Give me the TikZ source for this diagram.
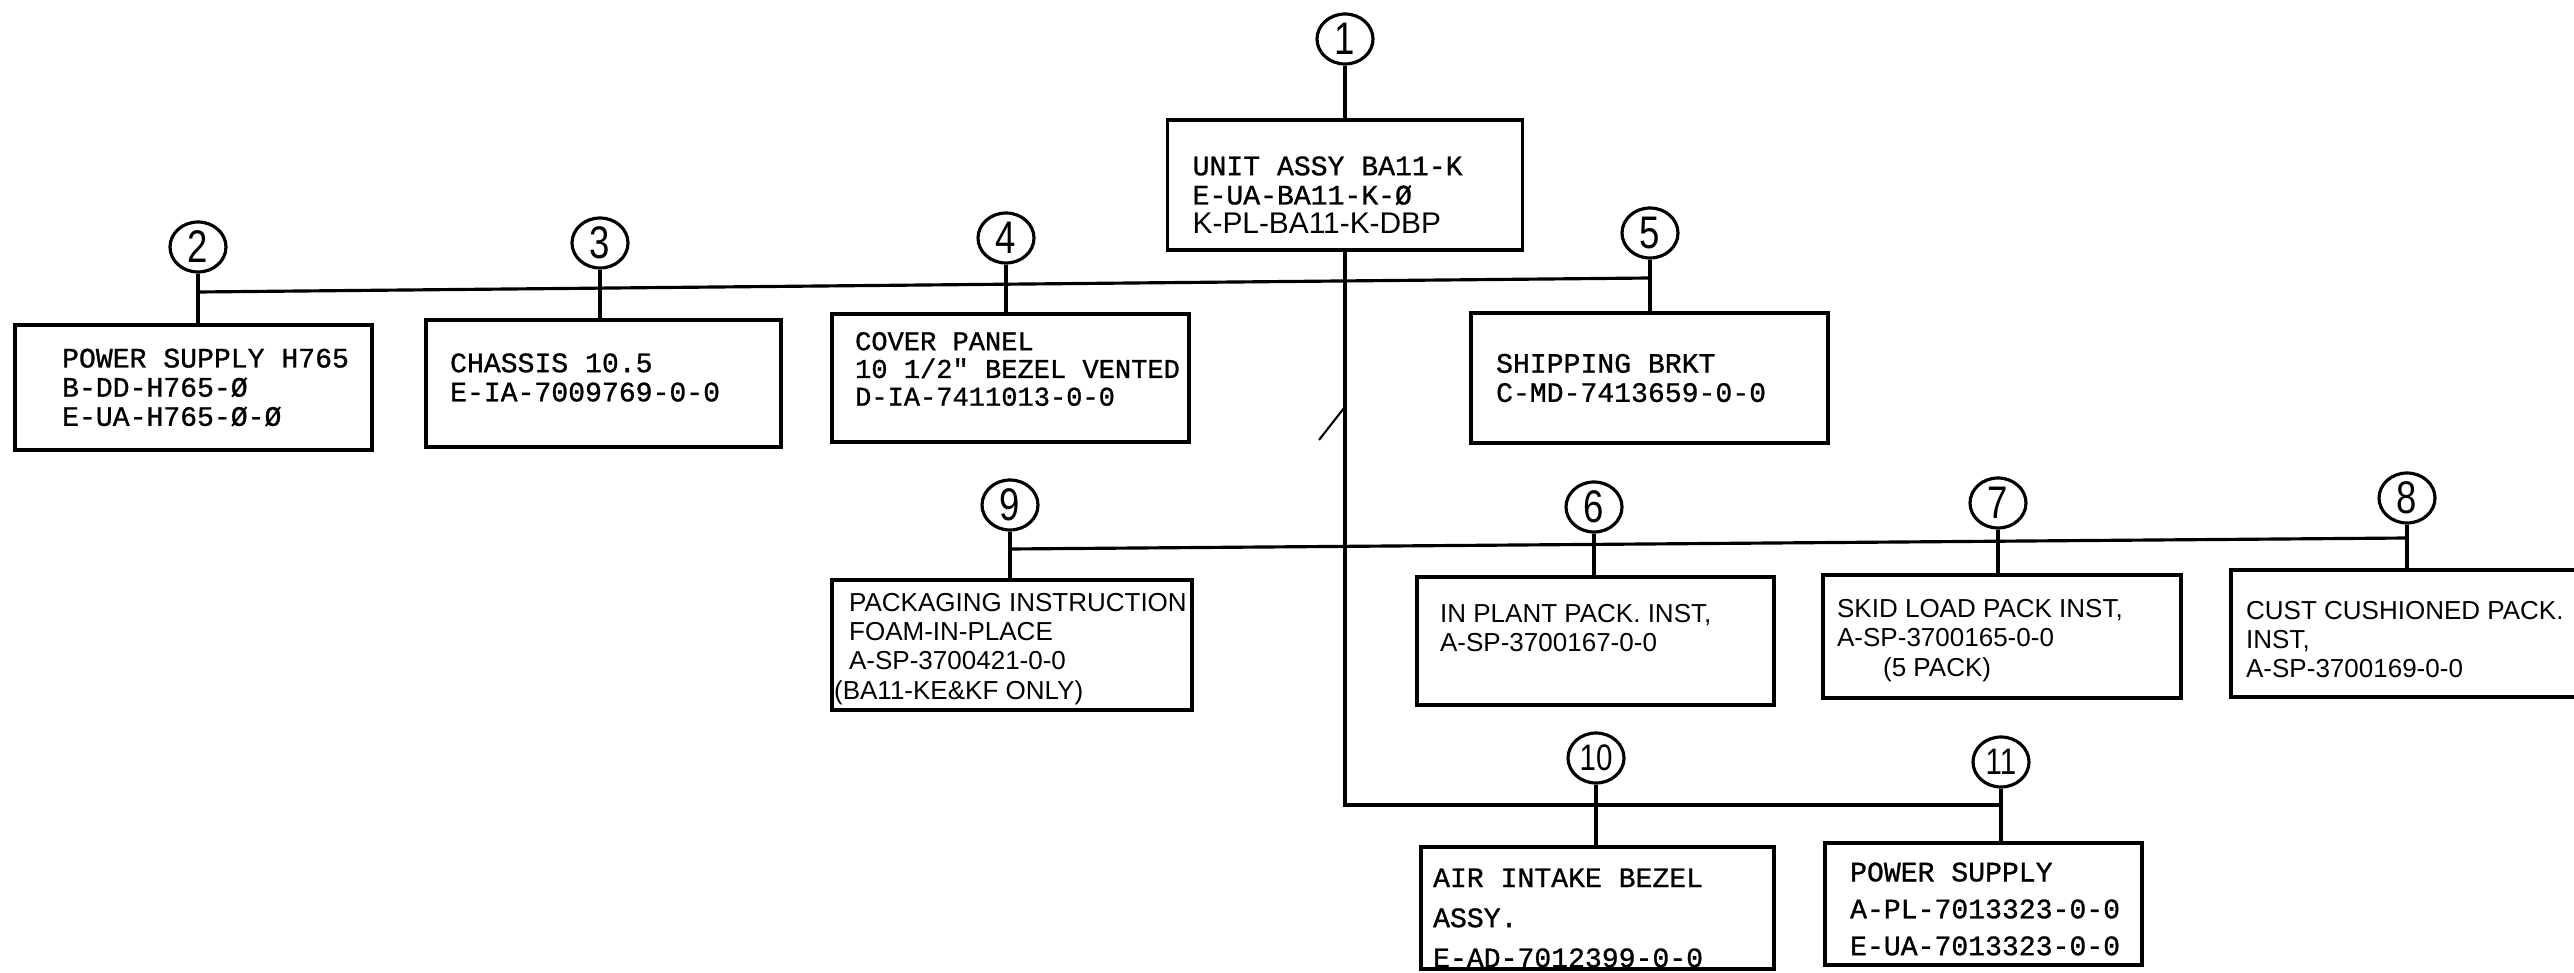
\documentclass[tikz,border=0pt]{standalone}
\usepackage{fontspec}
\setmonofont[FakeBold=1]{Liberation Mono}
\newfontfamily\lettering{Liberation Sans}
\newfontfamily\numfont[FakeStretch=0.8]{Liberation Sans}
\usepackage{tikz}
\usetikzlibrary{positioning,shapes.geometric}

\begin{document}
\begin{tikzpicture}[
  every node/.append style={inner sep=0pt},
  num/.style={draw, ellipse, line width=0.9pt, minimum width=5.6mm, minimum height=5.0mm},
  part/.style={draw, line width=0.9pt},
  typed/.style={align=left, font=\ttfamily\fontsize{8}{8.3}\selectfont},
  lettered/.style={align=left, font=\lettering\fontsize{7.4}{8.3}\selectfont},
  wire/.style={line width=0.9pt}
]
\useasboundingbox (0,0) rectangle (25.74,-9.73);
\clip (0,0) rectangle (25.74,-9.73);

% item numbers
\foreach \k/\x/\y/\s in {1/13.45/0.39/13, 2/1.98/2.47/13, 3/6.00/2.43/13, 4/10.06/2.38/13, 5/16.50/2.33/13,
                          9/10.10/5.05/13, 6/15.94/5.07/13, 7/19.98/5.03/13, 8/24.07/4.98/13,
                          10/15.96/7.58/10.5, 11/20.01/7.62/10.5}
  \node[num, font=\numfont\fontsize{\s}{\s}\selectfont] (n\k) at (\x,-\y) {\k};

% part boxes
\node[part, minimum width=3.55cm, minimum height=1.30cm] (b1) at (13.45,-1.85) {};
\node[part, minimum width=3.57cm, minimum height=1.25cm] (b2) at (1.935,-3.875) {};
\node[part, minimum width=3.55cm, minimum height=1.27cm] (b3) at (6.035,-3.835) {};
\node[part, minimum width=3.57cm, minimum height=1.28cm] (b4) at (10.105,-3.78) {};
\node[part, minimum width=3.57cm, minimum height=1.30cm] (b5) at (16.495,-3.78) {};
\node[part, minimum width=3.60cm, minimum height=1.30cm] (b9) at (10.12,-6.45) {};
\node[part, minimum width=3.57cm, minimum height=1.28cm] (b6) at (15.955,-6.41) {};
\node[part, minimum width=3.58cm, minimum height=1.23cm] (b7) at (20.02,-6.365) {};
\node[part, minimum width=3.60cm, minimum height=1.27cm] (b8) at (24.11,-6.335) {};
\node[part, minimum width=3.53cm, minimum height=1.22cm] (b10) at (15.975,-9.08) {};
\node[part, minimum width=3.17cm, minimum height=1.22cm] (b11) at (19.835,-9.04) {};

% box texts
\node[typed, right=0.26cm of b1.west, yshift=-0.1cm] (t1) {UNIT ASSY BA11-K\\E-UA-BA11-K-Ø\\{\lettering\fontsize{8.5}{8.5}\selectfont K-PL-BA11-K-DBP}};
\node[typed, right=0.48cm of b2.west] (t2) {POWER SUPPLY H765\\B-DD-H765-Ø\\E-UA-H765-Ø-Ø};
\node[typed, right=0.25cm of b3.west, yshift=0.06cm] (t3) {CHASSIS 10.5\\E-IA-7009769-0-0};
\node[typed, right=0.24cm of b4.west, yshift=0.09cm, font=\ttfamily\fontsize{7.7}{7.9}\selectfont] (t4) {COVER PANEL\\10 1/2" BEZEL VENTED\\D-IA-7411013-0-0};
\node[typed, right=0.26cm of b5.west] (t5) {SHIPPING BRKT\\C-MD-7413659-0-0};
\node[lettered, right=0.18cm of b9.west, yshift=-0.04cm] (t9) {PACKAGING INSTRUCTION\\FOAM-IN-PLACE\\A-SP-3700421-0-0\\\hspace*{-0.15cm}(BA11-KE\&KF ONLY)};
\node[lettered, right=0.24cm of b6.west, yshift=0.13cm] (t6) {IN PLANT PACK. INST,\\A-SP-3700167-0-0};
\node[lettered, right=0.15cm of b7.west, yshift=-0.04cm] (t7) {SKID LOAD PACK INST,\\A-SP-3700165-0-0\\\hspace*{0.46cm}(5 PACK)};
\node[lettered, right=0.16cm of b8.west, yshift=-0.06cm] (t8) {CUST CUSHIONED PACK.\\INST,\\A-SP-3700169-0-0};
\node[typed, right=0.13cm of b10.west, yshift=-0.1cm, font=\ttfamily\fontsize{8}{11.4}\selectfont] (t10) {AIR INTAKE BEZEL\\ASSY.\\E-AD-7012399-0-0};
\node[typed, right=0.26cm of b11.west, yshift=-0.05cm, font=\ttfamily\fontsize{8}{10.5}\selectfont] (t11) {POWER SUPPLY\\A-PL-7013323-0-0\\E-UA-7013323-0-0};

% connecting lines
\coordinate (bus1l) at (0,-2.92);
\coordinate (bus1r) at (0,-2.78);
\coordinate (bus2l) at (0,-5.49);
\coordinate (bus2r) at (0,-5.38);
\coordinate (bus3) at (0,-8.05);
\draw[wire] (n1) -- (b1);
\draw[wire] (b1.south) |- (n11 |- bus3);
\draw[wire] (n2 |- bus1l) -- (n5 |- bus1r);
\draw[wire] (n9 |- bus2l) -- (n8 |- bus2r);
\foreach \k in {2,...,11}
  \draw[wire] (n\k) -- (n\k |- b\k.north);
% stray stroke across the trunk
\draw[line width=0.6pt] (13.19,-4.40) -- (13.44,-4.08);
\end{tikzpicture}
\end{document}
